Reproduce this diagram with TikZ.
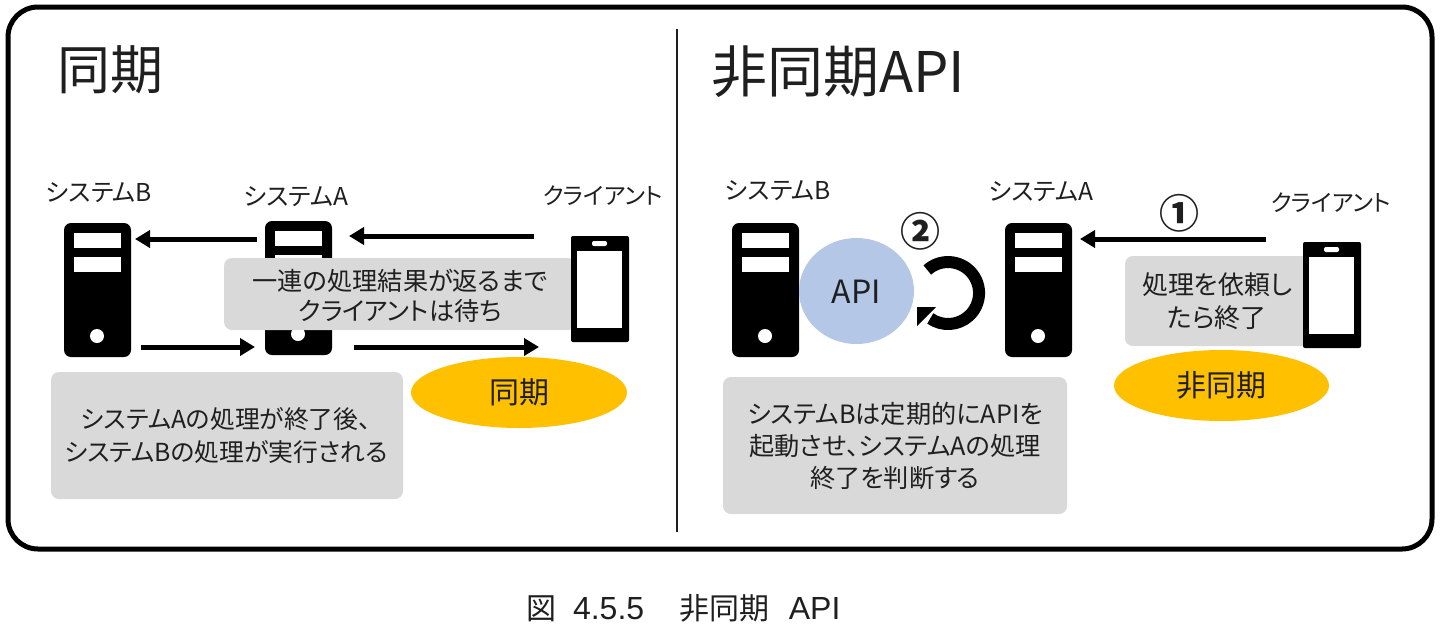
\documentclass[tikz,border=0pt]{standalone}
\usepackage{fontspec}
\setmainfont[RawFeature=+palt]{Noto Sans CJK JP}
\newfontfamily\capjp{Noto Sans CJK JP}
\newfontfamily\caplat{Liberation Sans}
\usetikzlibrary{arrows.meta,shapes.geometric}
\definecolor{inkc}{HTML}{1F1F1F}
\definecolor{greyc}{HTML}{D9D9D9}
\definecolor{amberc}{HTML}{FFC000}
\definecolor{apic}{HTML}{B4C7E7}
\tikzset{
  x=0.5pt,y=-0.5pt,
  txt/.style={text=inkc,inner sep=0,outer sep=0,align=center,font=\fontsize{12.3}{16}\selectfont},
  lab/.style={txt,font=\fontsize{12.3}{14}\selectfont},
  clab/.style={txt,font=\fontsize{11.6}{14}\selectfont},
  head/.style={txt,font=\fontsize{26.5}{30}\selectfont},
  greybox/.style={fill=greyc,rounded corners=4pt,inner sep=0,outer sep=0,anchor=north west},
  oval/.style={fill=amberc,ellipse,inner sep=0,outer sep=0},
  flow/.style={draw=black,line width=2.5pt,-{Triangle[length=7.5pt,width=8.5pt]}},
  srvbody/.style={fill=black,rounded corners=3.5pt,minimum width=33.5pt,minimum height=67pt,inner sep=0,outer sep=0,anchor=north west},
  srvbar/.style={fill=white,minimum width=23.5pt,minimum height=7.5pt,inner sep=0,outer sep=0,anchor=north west},
  srvdot/.style={fill=white,circle,minimum size=7pt,inner sep=0,outer sep=0},
  phbody/.style={fill=black,rounded corners=1pt,minimum width=29pt,minimum height=53pt,inner sep=0,outer sep=0,anchor=north west},
  phscreen/.style={fill=white,minimum width=22.5pt,minimum height=38.5pt,inner sep=0,outer sep=0,anchor=north west},
  phspk/.style={fill=white,rounded corners=1pt,minimum width=7.5pt,minimum height=2.5pt,inner sep=0,outer sep=0,anchor=north west},
}
\newcommand{\srvdraw}[3]{%
  \node[srvbody] (#1) at (#2,#3) {};
  \node[srvbar] (#1a) at ([shift={(9.5,10)}]#1.north west) {};
  \node[srvbar] (#1b) at ([shift={(9.5,34)}]#1.north west) {};
  \node[srvdot] (#1c) at ([shift={(33,113)}]#1.north west) {};
}
\newcommand{\phdraw}[3]{%
  \node[phbody] (#1) at (#2,#3) {};
  \node[phscreen] (#1a) at ([shift={(6,15)}]#1.north west) {};
  \node[phspk] (#1b) at ([shift={(21,5)}]#1.north west) {};
}
\begin{document}
\begin{tikzpicture}
\useasboundingbox (0,0) rectangle (1440,632);
\node[draw=black,line width=2.5pt,rounded corners=15pt,minimum width=712pt,minimum height=271pt,inner sep=0,outer sep=0,anchor=north west] (frame) at (8,7) {};
\coordinate (divT) at (677,29);
\coordinate (divB) at (677,532);
\draw[draw=inkc,line width=1pt] (divT) -- (divB);

\node[head] (h1) at (110,70) {同期};
\node[head,font=\fontsize{28}{30}\selectfont] (h2) at (838,72) {非同期API};

% left: synchronous
\srvdraw{lB}{64}{223}
\srvdraw{lA}{265}{221}
\node[greybox,minimum width=176pt,minimum height=36pt] (lwait) at (224,258) {};
\node[txt,font=\fontsize{12.6}{15}\selectfont] (lwaitt) at (400,296) {一連の処理結果が返るまで\\クライアントは待ち};
\phdraw{lC}{571}{236}
\node[lab] (lbB) at (99,193) {システムB};
\node[lab] (lbA) at (296,197) {システムA};
\node[clab] (lbC) at (603,196) {クライアント};

\coordinate (a1s) at (534,236); \coordinate (a1e) at (349,236);
\coordinate (a2s) at (257,239); \coordinate (a2e) at (135,239);
\coordinate (a3s) at (141,347); \coordinate (a3e) at (255,347);
\coordinate (a4s) at (354,347); \coordinate (a4e) at (539,347);
\draw[flow] (a1s) -- (a1e);
\draw[flow] (a2s) -- (a2e);
\draw[flow] (a3s) -- (a3e);
\draw[flow] (a4s) -- (a4e);

\node[greybox,minimum width=176pt,minimum height=63.5pt] (lnote) at (51,372) {};
\node[txt,font=\fontsize{12.4}{16.5}\selectfont] (lnotet) at (226,436) {システムAの処理が終了後、\\システムBの処理が実行される};
\node[oval,minimum width=108pt,minimum height=35.5pt] (lsync) at (519,392.5) {};
\node[txt,font=\fontsize{15}{17}\selectfont] (lsynct) at (519,392) {同期};

% right: asynchronous
\srvdraw{rB}{732}{223}
\srvdraw{rA}{1005}{223}
\node[greybox,minimum width=92pt,minimum height=45pt] (rdone) at (1125,256) {};
\node[txt,font=\fontsize{13}{16.5}\selectfont] (rdonet) at (1217,301) {処理を依頼し\\たら終了};
\phdraw{rC}{1303}{242}
\node[lab] (rbB) at (778,191) {システムB};
\node[lab] (rbA) at (1041,192) {システムA};
\node[clab] (rbC) at (1331,203) {クライアント};

\coordinate (b1s) at (1266,239); \coordinate (b1e) at (1080,239);
\draw[flow] (b1s) -- (b1e);
\node[txt,font=\fontsize{20}{22}\bfseries\selectfont] (n1) at (1179,213) {①};
\node[txt,font=\fontsize{20}{22}\bfseries\selectfont] (n2) at (920,231) {②};

\node[fill=apic,ellipse,minimum width=57.5pt,minimum height=53pt,inner sep=0,outer sep=0] (api) at (856.5,291) {};
\node[txt,font=\fontsize{16}{18}\selectfont] (apit) at (856.5,292) {API};

\coordinate (loopS) at (927.3,270);
\draw[draw=black,line width=6pt] (loopS) arc[start angle=132,end angle=-125,radius=15.5pt];
\coordinate (lp1) at (917,307);
\coordinate (lp2) at (936,307);
\coordinate (lp3) at (917,326);
\fill[black] (lp1) -- (lp2) -- (lp3) -- cycle;

\node[greybox,minimum width=172pt,minimum height=68.5pt] (rnote) at (723,377) {};
\node[txt,font=\fontsize{12.6}{16}\selectfont] (rnotet) at (895,446) {システムBは定期的にAPIを\\起動させ、システムAの処理\\終了を判断する};
\node[oval,minimum width=107.5pt,minimum height=35.5pt] (rsync) at (1221.5,385.5) {};
\node[txt,font=\fontsize{15}{17}\selectfont] (rsynct) at (1221.5,385) {非同期};

\node[inner sep=0,outer sep=0,text=inkc] (cap) at (683.5,608) {\capjp\fontsize{15}{16}\selectfont 図\hspace{0.55em}\caplat\fontsize{16}{16}\selectfont 4.5.5\hspace{1.1em}\capjp\fontsize{15}{16}\selectfont 非同期\hspace{0.65em}\caplat\fontsize{16}{16}\selectfont API};
\end{tikzpicture}
\end{document}
